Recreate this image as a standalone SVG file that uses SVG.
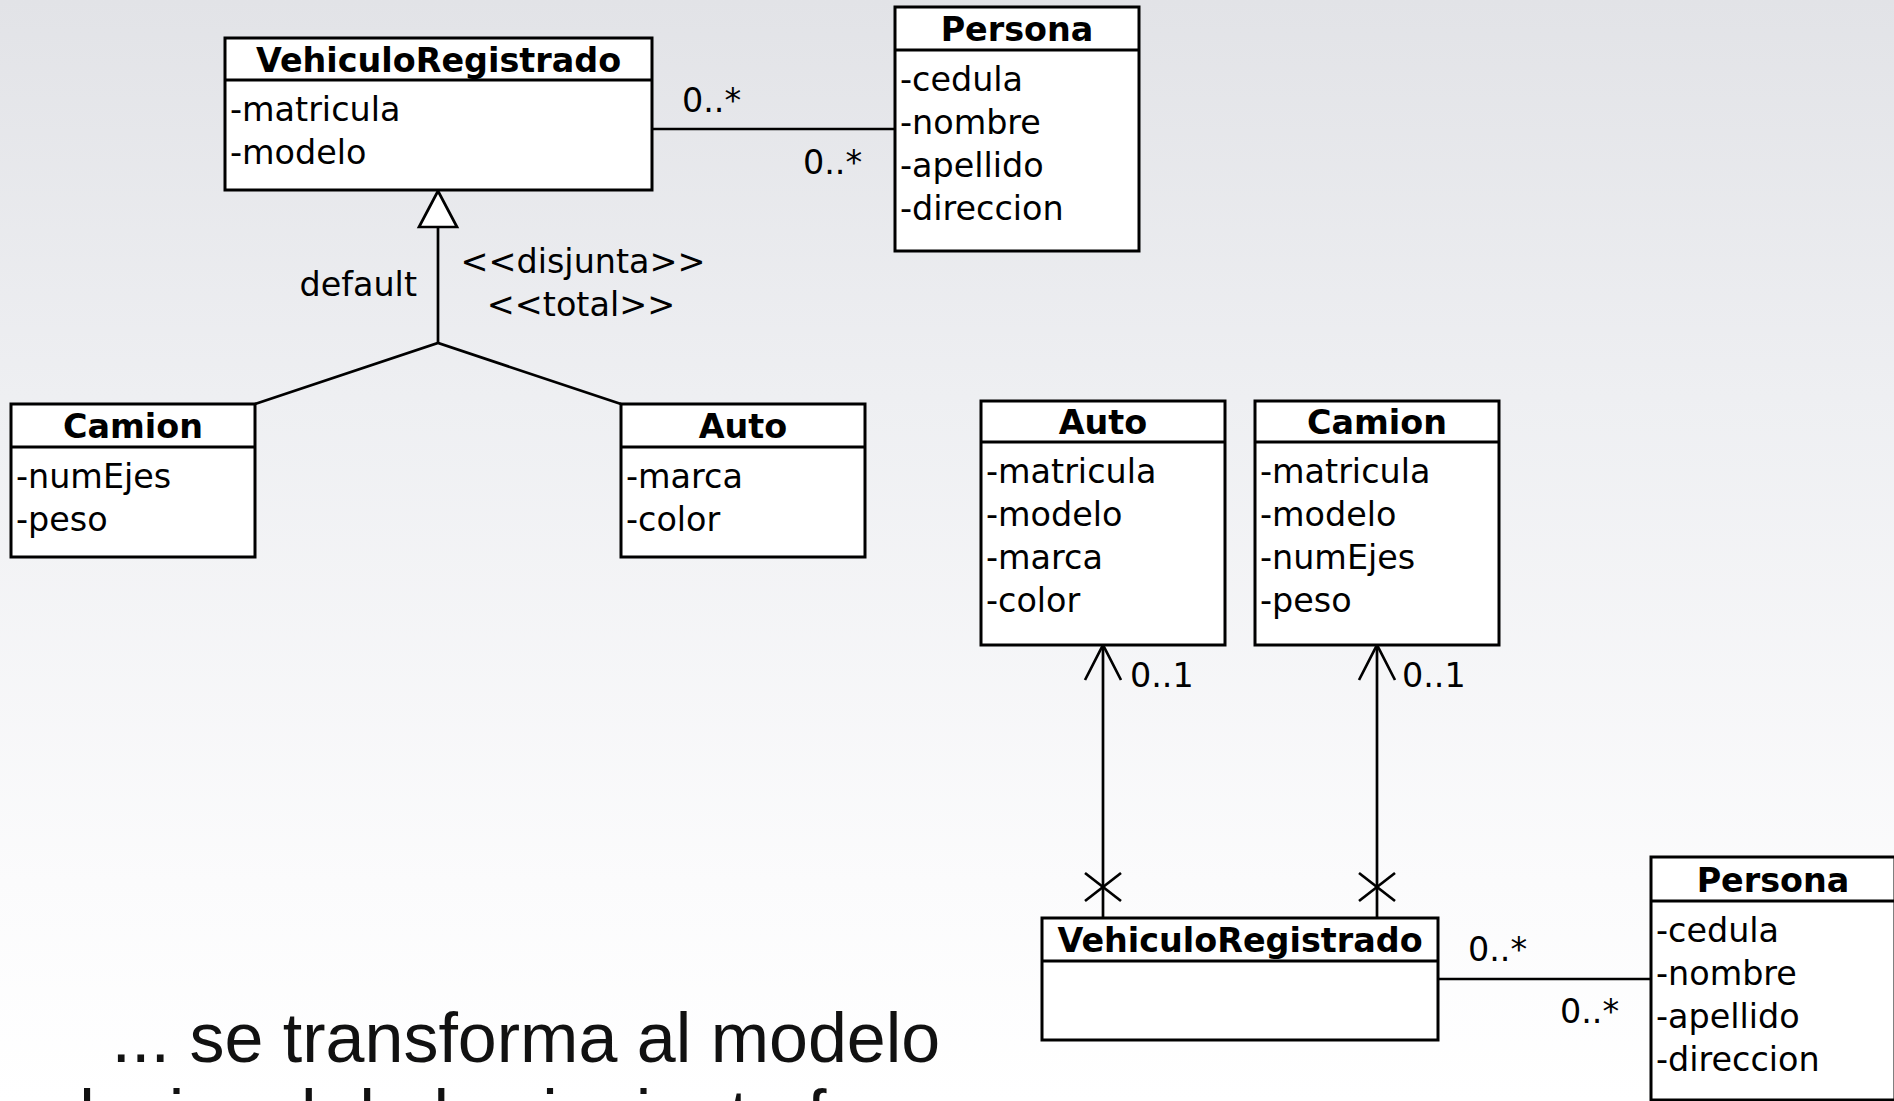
<svg xmlns="http://www.w3.org/2000/svg" width="1894" height="1101" viewBox="0 0 1894 1101">
<defs>
<linearGradient id="bg" x1="0" y1="0" x2="0" y2="1">
<stop offset="0" stop-color="#e2e3e7"/>
<stop offset="0.36" stop-color="#eeeff2"/>
<stop offset="0.8" stop-color="#fbfbfc"/>
<stop offset="1" stop-color="#ffffff"/>
</linearGradient>
<style>
.box{fill:#fff;stroke:#000;stroke-width:3}
.div{stroke:#000;stroke-width:3}
.t{font-family:"DejaVu Sans",sans-serif;font-size:33.4px;font-weight:bold;text-anchor:middle;fill:#000}
.a{font-family:"DejaVu Sans",sans-serif;font-size:33.4px;fill:#000}
.l{font-family:"DejaVu Sans",sans-serif;font-size:33.4px;fill:#000}
.c{stroke:#000;stroke-width:2.7;fill:none}
.big{font-family:"Liberation Sans",Arial,sans-serif;font-size:70px;fill:#111}
</style>
</defs>
<rect width="1894" height="1101" fill="url(#bg)"/>

<g id="connectors">
<line class="c" x1="652" y1="129" x2="895" y2="129"/>
<polyline class="c" points="255,404 438,343 621,404"/>
<line class="c" x1="438" y1="343" x2="438" y2="227"/>
<polygon points="438,191 419,227 457,227" fill="#fff" stroke="#000" stroke-width="2.7"/>
<line class="c" x1="1103" y1="645" x2="1103" y2="917"/>
<polyline class="c" points="1085,680 1103,645 1121,680"/>
<line class="c" x1="1085" y1="873" x2="1121" y2="901"/>
<line class="c" x1="1121" y1="873" x2="1085" y2="901"/>
<line class="c" x1="1377" y1="645" x2="1377" y2="917"/>
<polyline class="c" points="1359,680 1377,645 1395,680"/>
<line class="c" x1="1359" y1="873" x2="1395" y2="901"/>
<line class="c" x1="1395" y1="873" x2="1359" y2="901"/>
<line class="c" x1="1438" y1="979" x2="1651" y2="979"/>
<text class="l" x="682" y="112">0..*</text>
<text class="l" x="803" y="174">0..*</text>
<text class="l" x="417" y="296" text-anchor="end">default</text>
<text class="l" x="583" y="273" text-anchor="middle">&lt;&lt;disjunta&gt;&gt;</text>
<text class="l" x="581" y="316" text-anchor="middle">&lt;&lt;total&gt;&gt;</text>
<text class="l" x="1130" y="687">0..1</text>
<text class="l" x="1402" y="687">0..1</text>
<text class="l" x="1468" y="961">0..*</text>
<text class="l" x="1560" y="1023">0..*</text>
</g>

<g id="vehiculo-top">
<rect class="box" x="225" y="38" width="427" height="152"/>
<line class="div" x1="225" y1="80" x2="652" y2="80"/>
<text class="t" x="438.5" y="72">VehiculoRegistrado</text>
<text class="a" x="230" y="121">-matricula</text>
<text class="a" x="230" y="164">-modelo</text>
</g>

<g id="persona-top">
<rect class="box" x="895" y="7" width="244" height="244"/>
<line class="div" x1="895" y1="50" x2="1139" y2="50"/>
<text class="t" x="1017" y="41">Persona</text>
<text class="a" x="900" y="91">-cedula</text>
<text class="a" x="900" y="134">-nombre</text>
<text class="a" x="900" y="177">-apellido</text>
<text class="a" x="900" y="220">-direccion</text>
</g>

<g id="camion-left">
<rect class="box" x="11" y="404" width="244" height="153"/>
<line class="div" x1="11" y1="447" x2="255" y2="447"/>
<text class="t" x="133" y="438">Camion</text>
<text class="a" x="16" y="488">-numEjes</text>
<text class="a" x="16" y="531">-peso</text>
</g>

<g id="auto-left">
<rect class="box" x="621" y="404" width="244" height="153"/>
<line class="div" x1="621" y1="447" x2="865" y2="447"/>
<text class="t" x="743" y="438">Auto</text>
<text class="a" x="626" y="488">-marca</text>
<text class="a" x="626" y="531">-color</text>
</g>

<g id="auto-right">
<rect class="box" x="981" y="401" width="244" height="244"/>
<line class="div" x1="981" y1="442" x2="1225" y2="442"/>
<text class="t" x="1103" y="434">Auto</text>
<text class="a" x="986" y="483">-matricula</text>
<text class="a" x="986" y="526">-modelo</text>
<text class="a" x="986" y="569">-marca</text>
<text class="a" x="986" y="612">-color</text>
</g>

<g id="camion-right">
<rect class="box" x="1255" y="401" width="244" height="244"/>
<line class="div" x1="1255" y1="442" x2="1499" y2="442"/>
<text class="t" x="1377" y="434">Camion</text>
<text class="a" x="1260" y="483">-matricula</text>
<text class="a" x="1260" y="526">-modelo</text>
<text class="a" x="1260" y="569">-numEjes</text>
<text class="a" x="1260" y="612">-peso</text>
</g>

<g id="vehiculo-bottom">
<rect class="box" x="1042" y="918" width="396" height="122"/>
<line class="div" x1="1042" y1="961" x2="1438" y2="961"/>
<text class="t" x="1240" y="952">VehiculoRegistrado</text>
</g>

<g id="persona-bottom">
<rect class="box" x="1651" y="857" width="244" height="243"/>
<line class="div" x1="1651" y1="901" x2="1895" y2="901"/>
<text class="t" x="1773" y="892">Persona</text>
<text class="a" x="1656" y="942">-cedula</text>
<text class="a" x="1656" y="985">-nombre</text>
<text class="a" x="1656" y="1028">-apellido</text>
<text class="a" x="1656" y="1071">-direccion</text>
</g>

<g id="caption">
<text class="big" x="111.6" y="1062">... se transforma al modelo</text>
<text class="big" x="17" y="1139">relacional de la siguiente forma</text>
</g>
</svg>
